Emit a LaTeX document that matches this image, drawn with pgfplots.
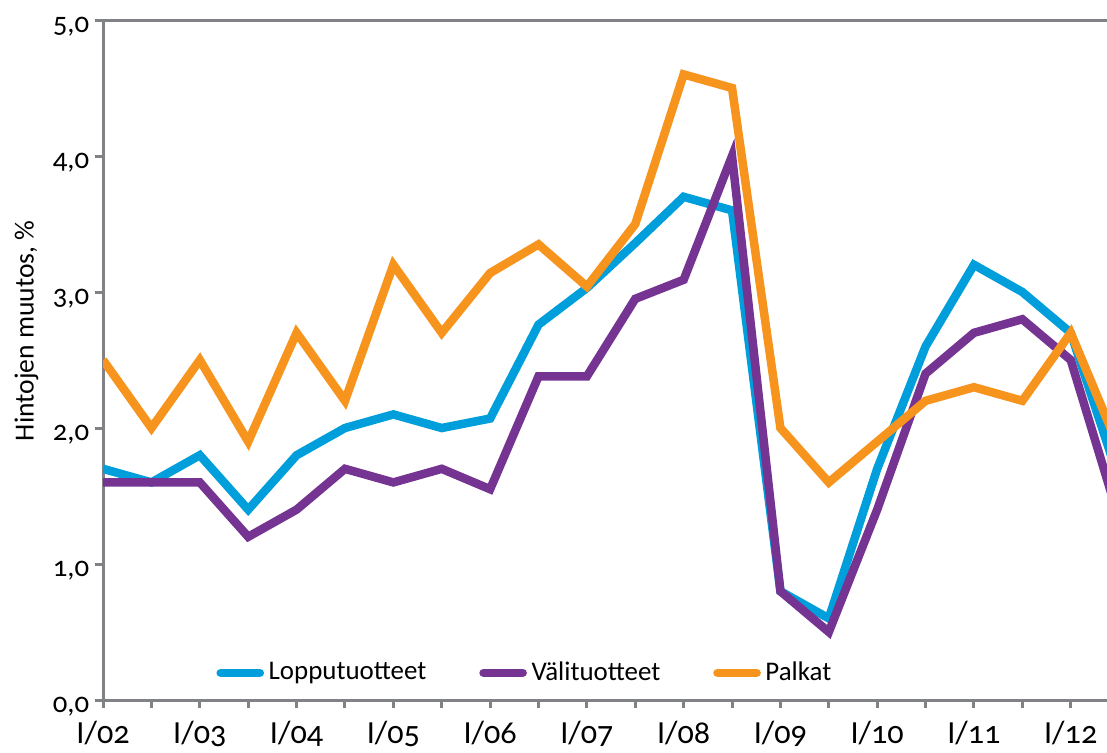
\documentclass[border=0pt]{standalone}
\usepackage{fontspec}
\setmainfont{Carlito}[Numbers=OldStyle]
\usepackage{pgfplots}
\pgfplotsset{compat=1.18}
\definecolor{cblue}{RGB}{0,158,219}
\definecolor{cpurple}{RGB}{118,52,146}
\definecolor{corange}{RGB}{247,148,30}
\definecolor{axgray}{RGB}{128,130,133}

\begin{document}
\begin{tikzpicture}[font=\fontsize{12}{14}\selectfont]
\begin{axis}[
    name=ax,
    scale only axis,
    width=436.4pt, height=295.6pt,
    xmin=0, xmax=20.75,
    ymin=0, ymax=5,
    axis x line*=bottom,
    axis y line*=left,
    axis line style={axgray, line width=1.3pt, -},
    tick style={axgray, line width=1.3pt},
    tick align=outside,
    major tick length=3.5pt,
    minor tick length=3.5pt,
    xtick={0,2,...,20},
    minor xtick={1,3,...,19},
    xticklabels={I/02,I/03,I/04,I/05,I/06,I/07,I/08,I/09,I/10,I/11,I/12},
    xticklabel style={font=\fontsize{14}{16}\selectfont, yshift=-2pt},
    ytick={0,1,...,5},
    /pgf/number format/assume math mode=true,
    yticklabel style={font=\fontsize{12.5}{14}\selectfont, yshift=-3pt, xshift=1pt,
        /pgf/number format/.cd, fixed, fixed zerofill, precision=1, use comma},
    ylabel={Hintojen muutos, \%},
    ylabel style={at={(rel axis cs:-0.064,0.543)}, anchor=south, inner sep=0pt},
    legend columns=-1,
    legend style={at={(rel axis cs:0.1056,0.04)}, anchor=west, draw=none, fill=none,
        font=\fontsize{11.7}{14}\selectfont,
        /tikz/every odd column/.append style={column sep=0pt},
        /tikz/every even column/.append style={column sep=21pt}},
    legend image code/.code={\draw[#1, line cap=round] (0pt,0pt) -- (17pt,0pt);},
    every axis plot/.append style={line width=3.7pt},
]
\addplot[cblue] coordinates {
    (0,1.7) (1,1.6) (2,1.8) (3,1.4) (4,1.8) (5,2.0) (6,2.1) (7,2.0) (8,2.07) (9,2.76) (10,3.03)
    (11,3.36) (12,3.7) (13,3.6) (14,0.8) (15,0.6) (16,1.7) (17,2.6) (18,3.2) (19,3.0) (20,2.7) (21,1.62)};
\addlegendentry{Lopputuotteet}
\addplot[cpurple] coordinates {
    (0,1.6) (1,1.6) (2,1.6) (3,1.2) (4,1.4) (5,1.7) (6,1.6) (7,1.7) (8,1.55) (9,2.38) (10,2.38)
    (11,2.95) (12,3.09) (13,4.0) (14,0.8) (15,0.5) (16,1.4) (17,2.4) (18,2.7) (19,2.8) (20,2.5) (21,1.33)};
\addlegendentry{Välituotteet}
\addplot[corange] coordinates {
    (0,2.5) (1,2.0) (2,2.5) (3,1.9) (4,2.7) (5,2.2) (6,3.2) (7,2.7) (8,3.14) (9,3.35) (10,3.04)
    (11,3.5) (12,4.6) (13,4.5) (14,2.0) (15,1.6) (16,1.9) (17,2.2) (18,2.3) (19,2.2) (20,2.7) (21,1.85)};
\addlegendentry{Palkat}
\end{axis}
\draw[axgray, line width=1.3pt] ([xshift=-3.5pt]ax.north west) -- (ax.north east);
\pgfresetboundingbox
\path ([shift={(-44.8pt,-23.0pt)}]ax.south west) rectangle ([shift={(0pt,8.7pt)}]ax.north east);
\end{tikzpicture}
\end{document}
